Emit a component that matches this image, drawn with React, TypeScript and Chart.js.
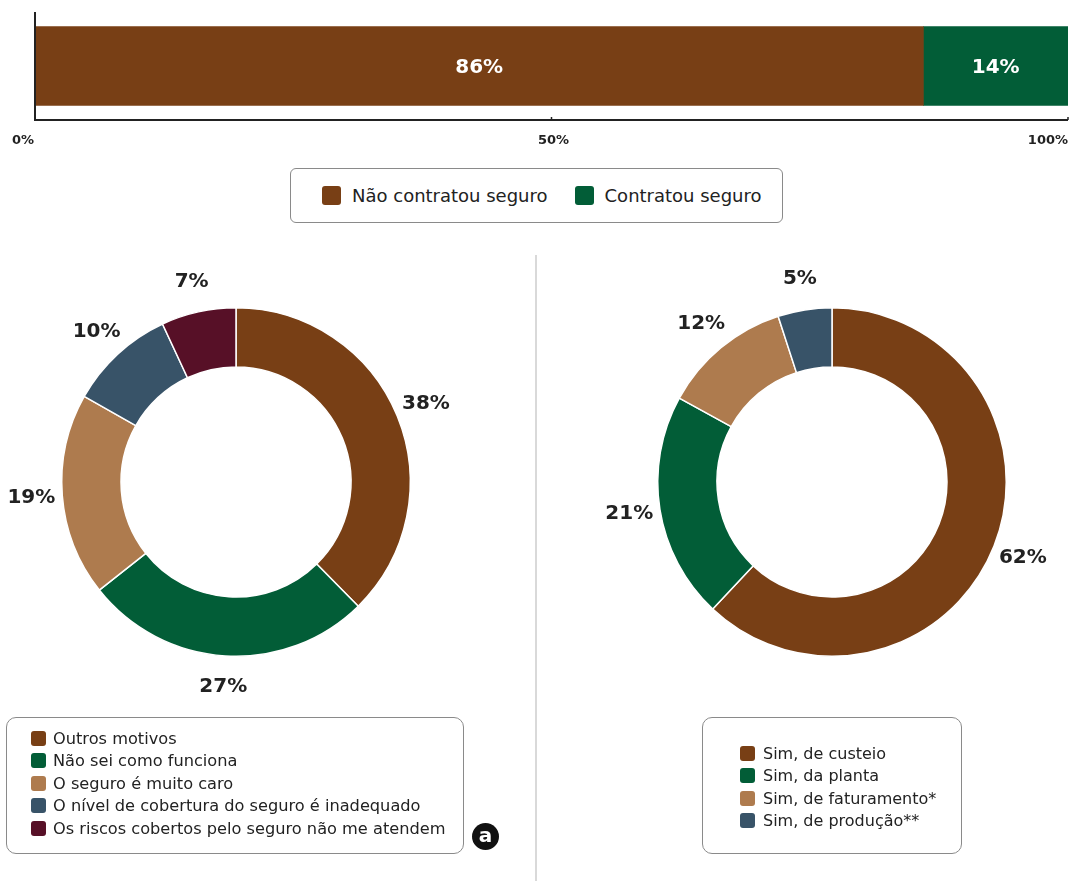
import React, { useEffect, useRef } from 'react';
import { Chart, registerables } from 'chart.js';

Chart.register(...registerables);

const FONT = '"DejaVu Sans", sans-serif';
const TEXT = '#222222';

// ---- Top stacked bar ----
const barCategories = ['Seguro'];
const barSeriesLabels = ['Não contratou seguro', 'Contratou seguro'];
const barValues = [86, 14];
const barColors = ['#783f15', '#025d37'];
const axisTicks = [0, 50, 100];

// ---- Left doughnut ----
const motivosLabels = [
  'Outros motivos',
  'Não sei como funciona',
  'O seguro é muito caro',
  'O nível de cobertura do seguro é inadequado',
  'Os riscos cobertos pelo seguro não me atendem',
];
const motivosValues = [38, 27, 19, 10, 7];
const motivosColors = ['#783f15', '#025d37', '#ae7b4e', '#385368', '#571027'];

// ---- Right doughnut ----
const tiposLabels = ['Sim, de custeio', 'Sim, da planta', 'Sim, de faturamento*', 'Sim, de produção**'];
const tiposValues = [62, 21, 12, 5];
const tiposColors = ['#783f15', '#025d37', '#ae7b4e', '#385368'];

function BarChart() {
  const ref = useRef<HTMLCanvasElement>(null);
  useEffect(() => {
    const axisPlugin = {
      id: 'axisPlugin',
      afterDraw(chart: any) {
        const { ctx, chartArea } = chart;
        const xs = chart.scales.x;
        ctx.save();
        ctx.strokeStyle = TEXT;
        ctx.lineWidth = 2;
        ctx.beginPath();
        ctx.moveTo(chartArea.left, chartArea.top);
        ctx.lineTo(chartArea.left, chartArea.bottom);
        ctx.lineTo(chartArea.right, chartArea.bottom);
        ctx.stroke();
        ctx.lineWidth = 1.5;
        axisTicks.forEach((v) => {
          const x = xs.getPixelForValue(v);
          ctx.beginPath();
          ctx.moveTo(x, chartArea.bottom);
          ctx.lineTo(x, chartArea.bottom - 3);
          ctx.stroke();
        });
        ctx.fillStyle = TEXT;
        ctx.font = `bold 13px ${FONT}`;
        ctx.textBaseline = 'middle';
        axisTicks.forEach((v, i) => {
          const x = xs.getPixelForValue(v);
          ctx.textAlign = i === 0 || i === axisTicks.length - 1 ? 'right' : 'center';
          ctx.fillText(`${v}%`, i === 0 ? x - 1 : i === axisTicks.length - 1 ? x : x + 2, chartArea.bottom + 21);
        });
        // value labels
        ctx.fillStyle = '#ffffff';
        ctx.font = `bold 20px ${FONT}`;
        ctx.textAlign = 'center';
        chart.data.datasets.forEach((ds: any, di: number) => {
          const meta = chart.getDatasetMeta(di);
          meta.data.forEach((bar: any, j: number) => {
            const cx = (bar.x + bar.base) / 2;
            ctx.fillText(`${ds.data[j]}%`, cx, bar.y + 2);
          });
        });
        ctx.restore();
      },
    };
    const chart = new Chart(ref.current as HTMLCanvasElement, {
      type: 'bar',
      data: {
        labels: barCategories,
        datasets: barSeriesLabels.map((l, i) => ({
          label: l,
          data: [barValues[i]],
          backgroundColor: barColors[i],
          borderWidth: 0,
          barThickness: 79,
        })),
      },
      options: {
        indexAxis: 'y',
        responsive: false,
        animation: false,
        layout: { padding: { top: 12, left: 35, right: 1, bottom: 40 } },
        plugins: { legend: { display: false }, tooltip: { enabled: false } },
        scales: {
          x: { stacked: true, min: 0, max: 100, display: false },
          y: { stacked: true, display: false },
        },
      },
      plugins: [axisPlugin],
    } as any);
    return () => chart.destroy();
  }, []);
  return (
    <canvas
      ref={ref}
      width={1069}
      height={160}
      style={{ position: 'absolute', left: 0, top: 0, width: 1069, height: 160 }}
    />
  );
}

function Donut({ labels, values, colors, left }: { labels: string[]; values: number[]; colors: string[]; left: number }) {
  const ref = useRef<HTMLCanvasElement>(null);
  useEffect(() => {
    const labelPlugin = {
      id: 'outLabels',
      afterDatasetsDraw(chart: any) {
        const { ctx } = chart;
        const meta = chart.getDatasetMeta(0);
        ctx.save();
        ctx.fillStyle = TEXT;
        ctx.font = `bold 20px ${FONT}`;
        ctx.textAlign = 'center';
        ctx.textBaseline = 'middle';
        meta.data.forEach((arc: any, i: number) => {
          const mid = (arc.startAngle + arc.endAngle) / 2;
          const r = arc.outerRadius + 31;
          ctx.fillText(`${values[i]}%`, arc.x + Math.cos(mid) * r, arc.y + Math.sin(mid) * r);
        });
        ctx.restore();
      },
    };
    const chart = new Chart(ref.current as HTMLCanvasElement, {
      type: 'doughnut',
      data: {
        labels,
        datasets: [
          {
            data: values,
            backgroundColor: colors,
            borderColor: '#ffffff',
            borderWidth: 1.5,
          },
        ],
      },
      options: {
        responsive: false,
        animation: false,
        cutout: '66%',
        layout: { padding: 61 },
        plugins: { legend: { display: false }, tooltip: { enabled: false } },
      },
      plugins: [labelPlugin],
    } as any);
    return () => chart.destroy();
  }, []);
  return (
    <canvas
      ref={ref}
      width={472}
      height={472}
      style={{ position: 'absolute', left, top: 246, width: 472, height: 472 }}
    />
  );
}

function Swatch({ color, size }: { color: string; size: number }) {
  return (
    <span
      style={{
        display: 'inline-block',
        width: size,
        height: size,
        background: color,
        borderRadius: 3,
        flex: 'none',
      }}
    />
  );
}

export default function App() {
  return (
    <div
      style={{
        position: 'absolute',
        left: 0,
        top: 0,
        width: 1069,
        height: 881,
        overflow: 'hidden',
        background: '#ffffff',
        fontFamily: FONT,
        color: TEXT,
      }}
    >
      <BarChart />
      {/* top legend */}
      <div
        style={{
          position: 'absolute',
          left: 290,
          top: 168,
          width: 493,
          height: 55,
          boxSizing: 'border-box',
          border: '1px solid #8a8a8a',
          borderRadius: 6,
          display: 'flex',
          alignItems: 'center',
          paddingLeft: 31,
          fontSize: 18,
        }}
      >
        {barSeriesLabels.map((l, i) => (
          <div key={l} style={{ display: 'flex', alignItems: 'center', marginRight: 27 }}>
            <Swatch color={barColors[i]} size={19} />
            <span style={{ marginLeft: 11, whiteSpace: 'nowrap' }}>{l}</span>
          </div>
        ))}
      </div>

      {/* divider */}
      <div style={{ position: 'absolute', left: 535, top: 255, width: 2, height: 626, background: '#d9d9d9' }} />

      <Donut labels={motivosLabels} values={motivosValues} colors={motivosColors} left={0} />
      <Donut labels={tiposLabels} values={tiposValues} colors={tiposColors} left={596} />

      {/* left legend */}
      <div
        style={{
          position: 'absolute',
          left: 6,
          top: 717,
          width: 458,
          height: 137,
          boxSizing: 'border-box',
          border: '1px solid #8a8a8a',
          borderRadius: 10,
          paddingTop: 9,
          paddingLeft: 24,
          fontSize: 16.2,
        }}
      >
        {motivosLabels.map((l, i) => (
          <div key={l} style={{ display: 'flex', alignItems: 'center', height: 22.5 }}>
            <Swatch color={motivosColors[i]} size={15} />
            <span style={{ marginLeft: 7, whiteSpace: 'nowrap' }}>{l}</span>
          </div>
        ))}
      </div>

      {/* badge */}
      <div
        style={{
          position: 'absolute',
          left: 472,
          top: 823,
          width: 27,
          height: 27,
          borderRadius: '50%',
          background: '#111111',
          color: '#ffffff',
          fontWeight: 'bold',
          fontSize: 20,
          display: 'flex',
          alignItems: 'center',
          justifyContent: 'center',
          lineHeight: 1,
        }}
      >
        <span style={{ marginTop: -3 }}>a</span>
      </div>

      {/* right legend */}
      <div
        style={{
          position: 'absolute',
          left: 702,
          top: 717,
          width: 260,
          height: 137,
          boxSizing: 'border-box',
          border: '1px solid #8a8a8a',
          borderRadius: 10,
          paddingTop: 24,
          paddingLeft: 37,
          fontSize: 16,
        }}
      >
        {tiposLabels.map((l, i) => (
          <div key={l} style={{ display: 'flex', alignItems: 'center', height: 22.5 }}>
            <Swatch color={tiposColors[i]} size={15} />
            <span style={{ marginLeft: 8, whiteSpace: 'nowrap' }}>{l}</span>
          </div>
        ))}
      </div>
    </div>
  );
}
